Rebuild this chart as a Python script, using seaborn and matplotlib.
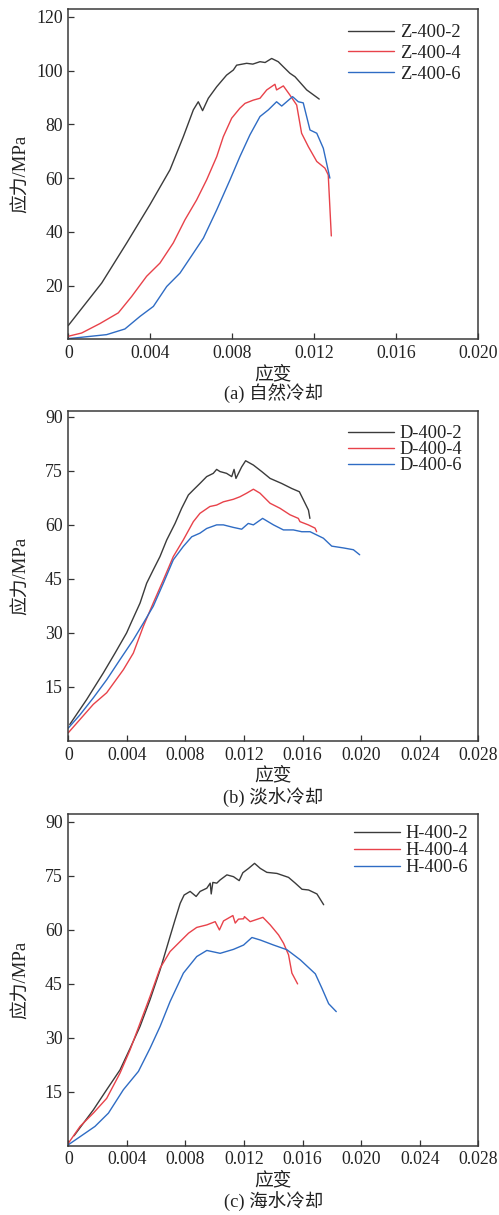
import numpy as np
import pandas as pd
import matplotlib
matplotlib.use("Agg")
import matplotlib.pyplot as plt
from matplotlib.ticker import FixedLocator, FuncFormatter
import seaborn as sns

sns.set_style("white")
plt.rcParams["font.family"] = ["Liberation Serif", "Noto Sans CJK SC"]
plt.rcParams["axes.unicode_minus"] = False

# ---------------- (a) natural cooling ----------------
z2_strain = [0.0, 0.00163, 0.00285, 0.00398, 0.00496, 0.00561, 0.0061, 0.00634, 0.00655,
             0.00683, 0.00724, 0.00772, 0.00805, 0.00821, 0.0087, 0.009, 0.00935, 0.0096,
             0.00992, 0.01024, 0.01049, 0.01081, 0.01106, 0.01163, 0.01224]
z2_stress = [5.2, 21.0, 35.9, 50.1, 63.1, 75.4, 85.4, 88.4, 85.1,
             89.7, 94.0, 98.3, 100.2, 102.0, 102.7, 102.4, 103.3, 103.0,
             104.5, 103.3, 101.4, 99.0, 97.7, 92.8, 89.4]

z4_strain = [0.0, 0.00065, 0.00154, 0.00244, 0.00309, 0.00382, 0.00447, 0.00512, 0.00569,
             0.00626, 0.00675, 0.00724, 0.00756, 0.00797, 0.00837, 0.00862, 0.00902, 0.00935,
             0.00968, 0.01008, 0.01016, 0.01049, 0.01081, 0.01114, 0.01138, 0.01171, 0.01212,
             0.01252, 0.01268, 0.01283]
z4_stress = [1.2, 2.4, 5.9, 9.9, 16.0, 23.5, 28.4, 35.9, 44.5,
             51.9, 59.4, 68.0, 75.4, 82.3, 86.0, 87.8, 89.0, 89.7,
             92.8, 94.9, 92.8, 94.3, 90.9, 87.2, 76.7, 71.7, 66.2,
             63.7, 61.2, 38.5]

z6_strain = [0.0, 0.00187, 0.00276, 0.0035, 0.00415, 0.0048, 0.00545, 0.0061, 0.00659,
             0.00724, 0.00789, 0.00837, 0.00886, 0.00935, 0.00976, 0.01016, 0.01041, 0.01094,
             0.01122, 0.01146, 0.01179, 0.01212, 0.01244, 0.01276]
z6_stress = [0.3, 1.8, 3.9, 8.6, 12.3, 19.7, 24.7, 32.1, 37.7,
             48.2, 59.4, 68.0, 76.1, 82.9, 85.4, 88.4, 86.8, 90.3,
             88.4, 88.0, 77.9, 76.7, 71.1, 60.0]

# ---------------- (b) fresh-water cooling ----------------
d2_strain = [0.0001, 0.00125, 0.00239, 0.00319, 0.00398, 0.00433, 0.0049, 0.00535, 0.0058,
             0.00626, 0.00672, 0.00729, 0.00774, 0.0082, 0.00854, 0.00899, 0.00945, 0.0099,
             0.01013, 0.01036, 0.01081, 0.01116, 0.01132, 0.01145, 0.01184, 0.01211, 0.01264,
             0.01321, 0.01378, 0.01457, 0.01526, 0.01578, 0.01617, 0.0164, 0.0165]
d2_stress = [4.6, 11.5, 18.9, 24.4, 30.0, 33.2, 38.3, 43.8, 47.5,
             51.2, 55.8, 60.4, 64.6, 68.3, 69.7, 71.5, 73.4, 74.3,
             75.4, 74.8, 74.3, 73.4, 75.4, 72.9, 76.1, 77.8, 76.6,
             74.8, 72.9, 71.5, 70.1, 69.2, 66.0, 64.1, 61.8]

d4_strain = [0.0, 0.0008, 0.00171, 0.00262, 0.00376, 0.00444, 0.00512, 0.0058, 0.00649,
             0.00717, 0.00785, 0.00854, 0.00899, 0.00967, 0.01013, 0.01059, 0.01127, 0.01172,
             0.01218, 0.01264, 0.01309, 0.01378, 0.01446, 0.01514, 0.01571, 0.01582, 0.01639,
             0.01685, 0.01696]
d4_stress = [2.3, 6.0, 10.2, 13.4, 19.8, 24.4, 31.8, 38.3, 44.7,
             51.2, 55.8, 60.9, 63.2, 65.1, 65.5, 66.4, 67.1, 67.8,
             68.8, 69.9, 68.8, 66.0, 64.6, 62.8, 61.8, 60.9, 60.0,
             59.1, 58.1]

d6_strain = [0.0, 0.0008, 0.00171, 0.00262, 0.00353, 0.00444, 0.00512, 0.0058, 0.00649,
             0.00717, 0.00785, 0.00843, 0.00899, 0.00945, 0.01013, 0.01059, 0.01127, 0.01184,
             0.01229, 0.01264, 0.01327, 0.01401, 0.01469, 0.01537, 0.01594, 0.01651, 0.01742,
             0.01799, 0.01879, 0.01947, 0.01990]
d6_stress = [3.6, 7.3, 12.0, 17.0, 22.6, 28.1, 32.7, 37.4, 43.8,
             50.3, 54.0, 56.7, 57.7, 59.0, 60.0, 60.0, 59.3, 58.8,
             60.4, 60.0, 61.8, 60.0, 58.6, 58.6, 58.1, 58.1, 56.3,
             54.1, 53.6, 53.1, 51.7]

# ---------------- (c) sea-water cooling ----------------
h2_strain = [0.00039, 0.00103, 0.00171, 0.00262, 0.00353, 0.00422, 0.0049, 0.00558, 0.00627,
             0.00695, 0.00729, 0.00764, 0.00791, 0.00832, 0.00873, 0.009, 0.00946, 0.00969,
             0.00976, 0.00987, 0.01014, 0.01037, 0.01083, 0.01128, 0.01167, 0.01192, 0.01231,
             0.01272, 0.01311, 0.01356, 0.01425, 0.01504, 0.0155, 0.01596, 0.01641, 0.01698,
             0.01744]
h2_stress = [2.7, 6.2, 9.9, 15.5, 21.0, 27.0, 33.1, 40.5, 48.8,
             58.1, 62.7, 67.3, 69.6, 70.6, 69.2, 70.6, 71.5, 72.9,
             69.9, 73.1, 72.9, 73.8, 75.2, 74.7, 73.6, 75.8, 77.0,
             78.4, 77.0, 75.9, 75.6, 74.5, 72.9, 71.2, 71.0, 69.9,
             66.9]

h4_strain = [0.0, 0.0008, 0.00171, 0.00262, 0.00353, 0.00422, 0.0049, 0.00558, 0.00627,
             0.00695, 0.00764, 0.00821, 0.00877, 0.00946, 0.01003, 0.01032, 0.0106, 0.01124,
             0.0114, 0.01162, 0.01197, 0.01203, 0.01242, 0.01329, 0.01379, 0.01436, 0.0147,
             0.01504, 0.01527, 0.01566]
h4_stress = [0.6, 5.3, 9.0, 13.1, 20.1, 26.6, 34.0, 41.4, 49.3,
             53.9, 56.7, 59.0, 60.6, 61.3, 62.2, 59.9, 62.4, 63.9,
             61.8, 62.9, 63.0, 63.6, 62.2, 63.4, 61.3, 58.5, 56.2,
             53.0, 47.9, 44.9]

h6_strain = [0.0, 0.00182, 0.00274, 0.00376, 0.00479, 0.00558, 0.00627, 0.00695, 0.00786,
             0.00877, 0.00946, 0.01037, 0.01128, 0.01197, 0.01254, 0.01311, 0.01402, 0.01493,
             0.01584, 0.01687, 0.01732, 0.01778, 0.0183]
h6_stress = [0.2, 5.3, 9.0, 15.5, 20.6, 27.0, 33.1, 40.0, 47.9,
             52.5, 54.2, 53.4, 54.5, 55.7, 57.8, 57.1, 55.7, 54.4,
             51.6, 47.7, 43.7, 39.4, 37.2]

line_colors = ["#3b3b3b", "#e8424a", "#2f6cc4"]

panels = [
    dict(names=["Z-400-2", "Z-400-4", "Z-400-6"],
         curves=[(z2_strain, z2_stress), (z4_strain, z4_stress), (z6_strain, z6_stress)],
         xmax=0.020, ymax=122.9, yticks=[20, 40, 60, 80, 100, 120],
         rect=[0.1369, 0.7206, 0.8216, 0.2720], leg=(0.682, 0.954), lspace=0.2,
         caption="(a) 自然冷却", cap_y=0.6765),
    dict(names=["D-400-2", "D-400-4", "D-400-6"],
         curves=[(d2_strain, d2_stress), (d4_strain, d4_stress), (d6_strain, d6_stress)],
         xmax=0.028, ymax=91.6, yticks=[15, 30, 45, 60, 75, 90],
         rect=[0.1369, 0.3901, 0.8216, 0.2716], leg=(0.682, 0.957), lspace=-0.05,
         caption="(b) 淡水冷却", cap_y=0.3432),
    dict(names=["H-400-2", "H-400-4", "H-400-6"],
         curves=[(h2_strain, h2_stress), (h4_strain, h4_stress), (h6_strain, h6_stress)],
         xmax=0.028, ymax=92.1, yticks=[15, 30, 45, 60, 75, 90],
         rect=[0.1369, 0.0572, 0.8216, 0.2728], leg=(0.696, 0.966), lspace=0.0,
         caption="(c) 海水冷却", cap_y=0.0107),
]

fig = plt.figure(figsize=(4.99, 12.15), dpi=100)


def strain_fmt(v, _):
    return "0" if abs(v) < 1e-12 else f"{v:.3f}"


for p in panels:
    ax = fig.add_axes(p["rect"])
    frames = []
    for name, (sx, sy) in zip(p["names"], p["curves"]):
        frames.append(pd.DataFrame({"strain": sx, "stress": sy, "specimen": name}))
    df = pd.concat(frames, ignore_index=True)
    sns.lineplot(data=df, x="strain", y="stress", hue="specimen",
                 hue_order=p["names"], palette=line_colors, sort=False,
                 estimator=None, linewidth=1.0, ax=ax)

    ax.set_xlim(0, p["xmax"])
    ax.set_ylim(0, p["ymax"])
    ax.xaxis.set_major_locator(FixedLocator(np.arange(0, p["xmax"] + 1e-9, 0.004)))
    ax.xaxis.set_major_formatter(FuncFormatter(strain_fmt))
    ax.yaxis.set_major_locator(FixedLocator(p["yticks"]))
    ax.tick_params(direction="in", length=4.5, width=0.9, colors="#333333",
                   labelsize=12.8, labelcolor="#222222", pad=4)
    ax.tick_params(axis="x", bottom=True, top=False)
    ax.tick_params(axis="y", left=True, right=False)
    for s in ax.spines.values():
        s.set_color("#3a3a3a")
        s.set_linewidth(1.1)

    ax.set_xlabel("应变", fontsize=13.5, labelpad=2.5, color="#222222")
    ax.set_ylabel("应力/MPa", fontsize=13.5, color="#222222")
    ax.yaxis.set_label_coords(-0.094, 0.5)

    leg = ax.legend(loc="upper left", bbox_to_anchor=p["leg"], frameon=False,
                    fontsize=13.3, handlelength=2.5, handletextpad=0.3,
                    labelspacing=p["lspace"], borderpad=0, borderaxespad=0)
    for t in leg.get_texts():
        t.set_color("#222222")

    fig.text(0.5474, p["cap_y"], p["caption"], ha="center", va="center",
             fontsize=13.3, color="#222222")

fig.savefig("out.png", dpi=100)
